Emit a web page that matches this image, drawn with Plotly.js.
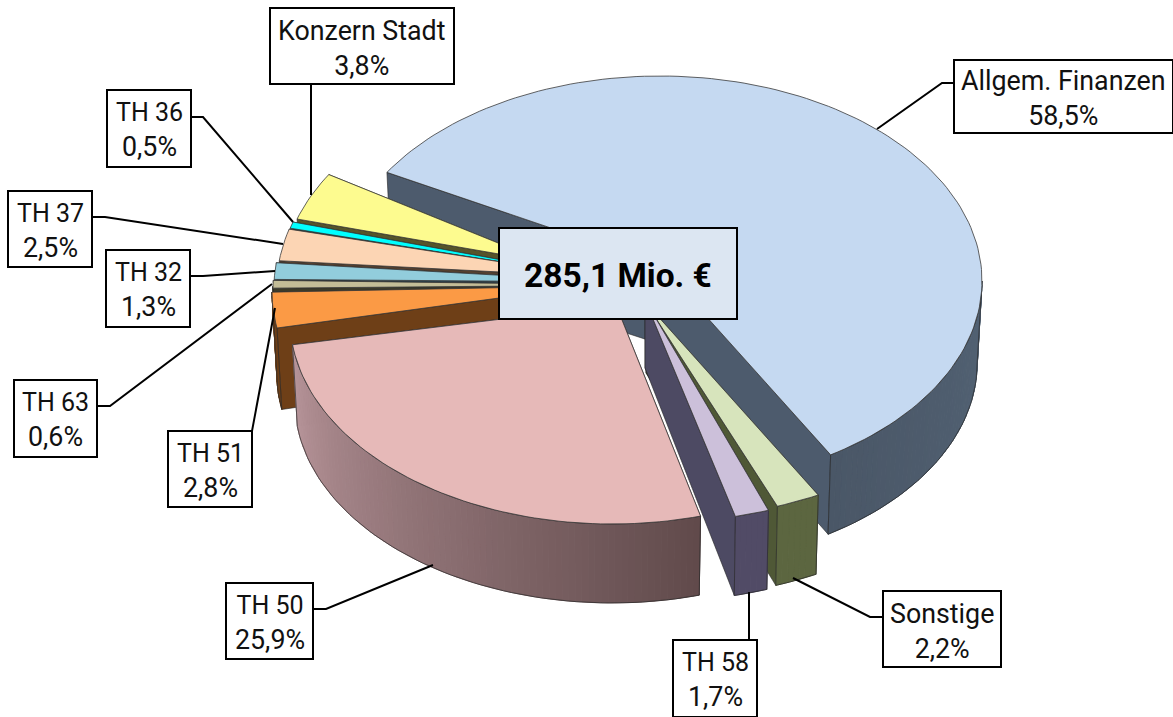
<!DOCTYPE html>
<html><head><meta charset="utf-8">
<script src="https://cdn.plot.ly/plotly-3.0.1.min.js"></script>
<style>html,body{margin:0;padding:0;background:#fff;overflow:hidden}#c{width:1173px;height:717px}</style>
</head><body><div id="c"></div>
<script>
// --- data (clockwise from the back edge of the largest slice)
var names  = ["Allgem. Finanzen","Sonstige","TH 58","TH 50","TH 51","TH 63","TH 32","TH 37","TH 36","Konzern Stadt"];
var shares = [58.5,2.2,1.7,25.9,2.8,0.6,1.3,2.5,0.5,3.8];
var totalLabel = "285,1 Mio. €";

// --- styling and placement, kept apart from the data
var topColors  = ["#c5d9f1","#d7e4bc","#ccc0da","#e6b9b8","#fb9a45","#c4bd97","#92cddc","#fcd5b4","#00ffff","#fdfb8f"];
var edgeColors = ["#4d5b6d","#4f5836","#4d4a63","#6a5050","#6e3f17","#3c3a28","#2f4550","#54402f","#0a4a4a","#56542a"];
var wallFrom   = ["#526274","#5c6640","#514b66","#604a4b","#6e3f17","#3c3a28","#2f4550","#54402f","#0a4a4a","#56542a"];
var wallTo     = ["#4a5767","#5c6640","#514b66","#b8959a","#6e3f17","#3c3a28","#2f4550","#54402f","#0a4a4a","#56542a"];
var centres = [[660,281],[670,313],[661,317],[612,319],[594,292],[595,288],[596,287],[599,285],[600,284],[604,281]];
var tips    = [[660,265,79],[646,303,70],[645,300,68],[616,305,70],[588,286,79],[640,285,25],[620,282,25],[598,277,25],[590,276,25],[545,262,25]];
// small perspective corrections of each slice's angular edges, in degrees
var startNudge = [0,0,0,-2.6,0,0,0,0,0,0];
var endNudge   = [-4.6,0,0,2.9,0,0,0,0,0,0];
var drawOrder = [0,9,8,7,6,5,4,3,1,2];
var RX = 322, RY = 205, SHRINK = 0.985, DROP = 82, START = 212;

var boxes = [[954,60,1173,133],[883,591,1001,667],[673,640,757,717],[226,583,313,659],[168,431,252,507],
             [14,380,97,457],[106,250,190,327],[8,191,92,267],[107,90,191,167],[270,8,454,84]];
var leaders = [[[954,83],[942,83],[877,129]],[[883,617],[870,617],[793,578]],[[749,640],[749,592]],
               [[313,609],[326,609],[433,565]],[[252,431],[275,308]],[[97,406],[110,406],[272,284]],
               [[190,276],[203,276],[275,271]],[[92,217],[105,217],[283,244]],[[191,117],[203,117],[293,222]],[[311,84],[311,195]]];
var totalBox = [499,228,737,319];
var FONT = "Roboto, sans-serif";

function rad(a){return a*Math.PI/180;}
function rim(c,a){return [c[0]+RX*Math.cos(rad(a)), c[1]+RY*Math.sin(rad(a))];}
function low(c,a){return [c[0]+SHRINK*RX*Math.cos(rad(a)), c[1]+DROP+SHRINK*RY*Math.sin(rad(a))];}
function arc(fn,c,a,b){var p=[],n=Math.max(2,Math.ceil(Math.abs(b-a)/1.5));for(var i=0;i<=n;i++)p.push(fn(c,a+(b-a)*i/n));return p;}
function hex(h){return [parseInt(h.substr(1,2),16),parseInt(h.substr(3,2),16),parseInt(h.substr(5,2),16)];}
function mix(a,b,t){var x=hex(a),y=hex(b);return "rgb("+[0,1,2].map(function(i){return Math.round(x[i]+(y[i]-x[i])*t);}).join(",")+")";}

var traces = [];
function poly(pts,fill,line,w){
  var xs=pts.map(function(p){return p[0];}),ys=pts.map(function(p){return p[1];});
  traces.push({type:"scatter",mode:"lines",x:xs.concat(xs[0]),y:ys.concat(ys[0]),fill:fill?"toself":"none",
    fillcolor:fill||"rgba(0,0,0,0)",line:{color:line,width:w},hoverinfo:"skip",showlegend:false});
}

// cumulative angles from the shares
var from=[],to=[],acc=START;
shares.forEach(function(s,i){from.push(acc+startNudge[i]);acc+=s*3.6;to.push(acc+endNudge[i]);});

drawOrder.forEach(function(i){
  var c=centres[i],t=tips[i],a=from[i],b=to[i];
  var tipTop=[t[0],t[1]],tipLow=[t[0],t[1]+t[2]];
  // radial walls; the edge facing the viewer goes last
  var leftSide=(a%360)>90&&(a%360)<270;
  (leftSide?[b,a]:[a,b]).forEach(function(e){
    poly([tipTop,rim(c,e),low(c,e),tipLow],edgeColors[i],"#222",0.6);
  });
  // outer wall, front-facing part only
  var wa,wb;
  if(a<360&&b>360){wa=0;wb=b-360;}
  else if(a>=360){wa=a-360;wb=b-360;}
  else {wa=a;wb=b;}
  wb=Math.min(wb,180.5);
  if(wb>wa){
    var n=Math.max(2,Math.ceil((wb-wa)/1.2));
    for(var k=0;k<n;k++){
      var s=wa+(wb-wa)*k/n,e=wa+(wb-wa)*(k+1)/n,col=mix(wallFrom[i],wallTo[i],(k+0.5)/n);
      poly([rim(c,s),rim(c,e),low(c,e),low(c,s)],col,col,1);
    }
    poly(arc(low,c,wa,wb).concat([rim(c,wb)]).concat(arc(rim,c,wb,wa)),null,"#2a2a2a",0.7);
  }
  // top face
  poly([tipTop].concat(arc(rim,c,a,b)),topColors[i],"#3a3a3a",0.8);
});

// leader lines
leaders.forEach(function(l){
  traces.push({type:"scatter",mode:"lines",x:l.map(function(p){return p[0];}),y:l.map(function(p){return p[1];}),
    line:{color:"#000",width:2},hoverinfo:"skip",showlegend:false});
});

function rect(b,fill){return {type:"rect",xref:"x",yref:"y",layer:"above",x0:b[0],y0:b[1],x1:b[2],y1:b[3],fillcolor:fill,line:{color:"#000",width:2}};}
var shapes = boxes.map(function(b){return rect(b,"#fff");}).concat([rect(totalBox,"#dce6f2")]);

var annotations = names.map(function(n,i){
  var b=boxes[i];
  var first = n.indexOf("TH")===0 ? '<span style="font-size:25px">'+n+'</span>' : n;
  return {xref:"x",yref:"y",x:(b[0]+b[2])/2,y:(b[1]+b[3])/2+2,showarrow:false,align:"center",xanchor:"center",yanchor:"middle",
    text:first+"<br>"+shares[i].toFixed(1).replace(".",",")+"%",font:{family:FONT,size:26.8,color:"#111"}};
});
annotations.push({xref:"x",yref:"y",x:(totalBox[0]+totalBox[2])/2,y:(totalBox[1]+totalBox[3])/2+2,showarrow:false,
  xanchor:"center",yanchor:"middle",text:"<b>"+totalLabel+"</b>",font:{family:FONT,size:33.5,color:"#000"}});

Plotly.newPlot("c",traces,{
  width:1173,height:717,margin:{l:0,r:0,t:0,b:0},paper_bgcolor:"#fff",plot_bgcolor:"#fff",showlegend:false,
  xaxis:{range:[0,1173],visible:false,fixedrange:true},
  yaxis:{range:[717,0],visible:false,fixedrange:true},
  shapes:shapes,annotations:annotations
},{displayModeBar:false,staticPlot:true});
</script></body></html>
